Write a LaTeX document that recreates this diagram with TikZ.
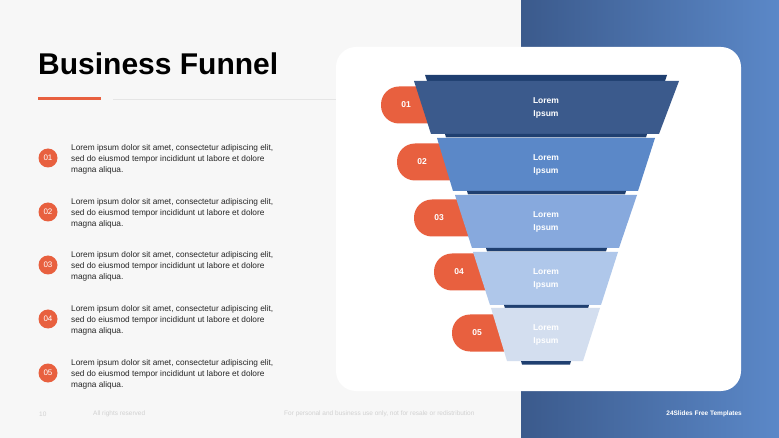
\documentclass[tikz,border=0pt]{standalone}
\usepackage{fontspec}
\setmainfont{Liberation Sans}
\usetikzlibrary{positioning}
\definecolor{accent}{HTML}{E8603F}
\definecolor{navy}{HTML}{1F3F70}
\definecolor{lvlA}{HTML}{3B5A8C}
\definecolor{lvlB}{HTML}{5B88C8}
\definecolor{lvlC}{HTML}{87A9DD}
\definecolor{lvlD}{HTML}{AFC7EA}
\definecolor{lvlE}{HTML}{D3DEEF}
\tikzset{
  pill/.style={fill=accent, rounded corners=18pt},
  badge/.style={circle, fill=accent, minimum size=19pt, inner sep=0pt, text=white, font=\fontsize{8}{9}\selectfont},
  itemtext/.style={anchor=north west, align=left, inner sep=0pt, font=\fontsize{8.3}{11}\selectfont, text=black!85},
  foot/.style={font=\fontsize{6.5}{7}\selectfont, text=black!18, inner sep=0pt}
}
\begin{document}
\begin{tikzpicture}[x=1pt, y=-1pt]
  \useasboundingbox (0,0) rectangle (779,438);
  % background
  \fill[black!3] (0,0) rectangle (521,438);
  \shade[left color=lvlA, right color=lvlB] (521,0) rectangle (779,438);
  \fill[white, rounded corners=20pt] (336,47) rectangle (741,391);

  % title
  \node[anchor=west, inner sep=0pt, font=\bfseries\fontsize{30}{32}\selectfont] (title) at (38,64) {Business Funnel};
  \draw[accent, line width=3pt] (38,99) -- (101,99);
  \draw[black!10, line width=0.8pt] (113,99) -- (336,99);

  % list
  \foreach \n/\y in {01/158, 02/212, 03/265, 04/319, 05/373} {
    \node[badge] (b\n) at (48,\y) {\n};
    \node[itemtext] (t\n) at (71,\y-14) {Lorem ipsum dolor sit amet, consectetur adipiscing elit,\\sed do eiusmod tempor incididunt ut labore et dolore\\magna aliqua.};
  }

  % pills behind funnel
  \foreach \n/\xl/\y in {01/381/105, 02/397/162, 03/414/218, 04/434/272, 05/452/333} {
    \fill[pill] (\xl,\y-18.5) rectangle (\xl+80,\y+18.5);
    \node[text=white, font=\bfseries\fontsize{8.5}{9}\selectfont] (p\n) at (\xl+25,\y) {\n};
  }

  % funnel levels: top y, top-left, top-right, bottom-left, bottom-right, colour, text colour
  \fill[navy] (425,75) -- (667,75) -- (665,81) -- (427,81) -- cycle;
  \foreach \n/\y/\a/\b/\c/\d/\col/\tc in {
      1/81/414/679/431/659/lvlA/white,
      2/138/437/655/453/638/lvlB/white,
      3/195/455/637/472/619/lvlC/white,
      4/252/473/618/490/601/lvlD/white,
      5/308/491/600/507/583/lvlE/white} {
    \fill[\col] (\a,\y) -- (\b,\y) -- (\d,\y+53) -- (\c,\y+53) -- cycle;
    \fill[navy] (\c+14,\y+53) -- (\d-12,\y+53) -- (\d-13,\y+56.5) -- (\c+15,\y+56.5) -- cycle;
    \node[align=center, text=\tc, font=\bfseries\fontsize{8.5}{13}\selectfont] (f\n) at (546,\y+27) {Lorem\\Ipsum};
  }

  % footer
  \node[foot, anchor=west] (page) at (39,414) {10};
  \node[foot, anchor=west] (rights) at (93,414) {All rights reserved};
  \node[foot, anchor=west] (use) at (284,414) {For personal and business use only, not for resale or redistribution};
  \node[foot, anchor=east, text=white, font=\bfseries\fontsize{6.5}{7}\selectfont] (brand) at (742,414) {24Slides Free Templates};
\end{tikzpicture}
\end{document}
